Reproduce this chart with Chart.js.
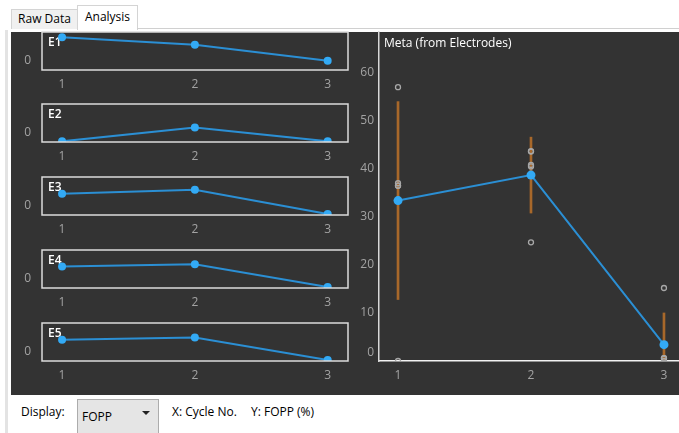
<!DOCTYPE html>
<html>
<head>
<meta charset="utf-8">
<script src="https://cdn.jsdelivr.net/npm/chart.js@4.4.1/dist/chart.umd.min.js"></script>
<style>
  body { margin: 0; width: 679px; height: 433px; overflow: hidden; background: #fff;
         font-family: "Open Sans", "Noto Sans", sans-serif; font-size: 12px; position: relative; }
  .abs { position: absolute; }
  .tab { position: absolute; box-sizing: border-box; border: 1px solid #d4d4d4; border-bottom: none;
         text-align: center; color: #000; }
  .raw { background: #f0f0f0; line-height: 18px; }
  .active { background: #fff; line-height: 22px; }
  canvas { position: absolute; }
  .combo { position: absolute; box-sizing: border-box; background: #e5e5e5; border: 1px solid #acacac; }
  .arrow { position: absolute; width: 0; height: 0; border-left: 4px solid transparent;
           border-right: 4px solid transparent; border-top: 4px solid #222; }
</style>
</head>
<body>
<div class="abs" style="left:5px;top:30px;width:3px;height:403px;background:#e3e3e3"></div>
<div class="tab raw" style="left:11px;top:9px;width:67px;height:20px;">Raw Data</div>
<div class="tab active" style="left:77px;top:5px;width:61px;height:25px;">Analysis</div>
<div class="abs" style="left:137px;top:28px;width:542px;height:1px;background:#d0d0d0"></div>
<div class="abs" style="left:11px;top:32px;width:668px;height:363px;background:#333333"></div>

<canvas id="e1" width="340" height="72" style="left:10px;top:31px"></canvas>
<canvas id="e2" width="340" height="72" style="left:10px;top:103px"></canvas>
<canvas id="e3" width="340" height="72" style="left:10px;top:176px"></canvas>
<canvas id="e4" width="340" height="72" style="left:10px;top:249px"></canvas>
<canvas id="e5" width="340" height="72" style="left:10px;top:322px"></canvas>
<canvas id="meta" width="329" height="364" style="left:350px;top:31px"></canvas>

<div class="abs" style="left:21px;top:403px;">Display:</div>
<div class="combo" style="left:77px;top:399px;width:82px;height:36px;"></div>
<div class="abs" style="left:82px;top:408px;">FOPP</div>
<div class="arrow" style="left:142px;top:411px;"></div>
<div class="abs" style="left:172px;top:403px;">X: Cycle No.</div>
<div class="abs" style="left:251px;top:403px;">Y: FOPP (%)</div>

<script>
// cycles on the x axis
var cycles = [1, 2, 3];
var electrodeNames = ['E1', 'E2', 'E3', 'E4', 'E5'];

// FOPP (%) per electrode, one value per cycle
var e1Values = [57.0, 43.7, 15.2];
var e2Values = [0.0, 24.7, 0.0];
var e3Values = [36.5, 43.6, 0.5];
var e4Values = [37.0, 40.8, 0.6];
var e5Values = [36.5, 40.5, 0.6];

// meta (from electrodes): mean and std dev per cycle
var metaMean = [33.4, 38.7, 3.4];
var metaSd = [20.6, 7.9, 6.6];

var metaYTicks = [0, 10, 20, 30, 40, 50, 60];

var lineBlue = '#2b8fd4';
var pointBlue = '#33aaf5';
var tickGray = '#a3a3a3';
var barOrange = '#a8682a';

Chart.defaults.font.family = '"Open Sans", "Noto Sans", sans-serif';
Chart.defaults.font.size = 12;

var framePlugin = {
    id: 'frame',
    afterDatasetsDraw: function (chart, args, opts) {
        if (!opts.show) return;
        var a = chart.chartArea, ctx = chart.ctx;
        ctx.save();
        ctx.strokeStyle = '#dcdcdc';
        ctx.lineWidth = 1.5;
        ctx.strokeRect(a.left, a.top, a.right - a.left, a.bottom - a.top);
        ctx.restore();
    }
};

var cornerLabel = {
    id: 'cornerLabel',
    beforeDatasetsDraw: function (chart, args, opts) {
        if (!opts.text) return;
        var a = chart.chartArea, ctx = chart.ctx;
        ctx.save();
        ctx.fillStyle = '#ffffff';
        ctx.font = (opts.weight || 'normal') + ' 12px "Open Sans", "Noto Sans", sans-serif';
        ctx.textBaseline = 'middle';
        ctx.fillText(opts.text, a.left + opts.dx, a.top + opts.dy);
        ctx.restore();
    }
};

function zeroLabel(v) {
    // the bottom "0" sits a half line above its tick, as in the original plot
    return v === 0 ? ['0', ''] : String(v);
}

// fixed axis sizes, and no extra room asked for the end labels
function fixSize(w, h) {
    return function (s) {
        if (w) s.width = w;
        if (h) s.height = h;
        s.paddingTop = 0; s.paddingBottom = 0;
        s.paddingLeft = 0; s.paddingRight = 0;
    };
}

function smallChart(id, name, values) {
    var ctx = document.getElementById(id).getContext('2d');
    new Chart(ctx, {
        type: 'line',
        data: {
            datasets: [{
                data: cycles.map(function (c, i) { return { x: c, y: values[i] }; }),
                borderColor: lineBlue,
                borderWidth: 2,
                pointRadius: 4,
                pointBackgroundColor: pointBlue,
                pointBorderWidth: 0
            }]
        },
        options: {
            responsive: false,
            animation: false,
            layout: { autoPadding: false, padding: { top: 1, right: 2, left: 0, bottom: 0 } },
            plugins: {
                legend: { display: false },
                tooltip: { enabled: false },
                frame: { show: true },
                cornerLabel: { text: name, dx: 6, dy: 11, weight: '600' }
            },
            scales: {
                x: {
                    type: 'linear', min: 0.849, max: 3.153,
                    grid: { display: false, drawTicks: false },
                    border: { display: false },
                    afterBuildTicks: function (s) { s.ticks = cycles.map(function (v) { return { value: v }; }); },
                    afterFit: fixSize(0, 33),
                    ticks: { color: tickGray, padding: 7, maxRotation: 0 }
                },
                y: {
                    min: -1.2, max: 66.3,
                    grid: { display: false, drawTicks: false },
                    border: { display: false },
                    afterBuildTicks: function (s) { s.ticks = [{ value: 0 }]; },
                    afterFit: fixSize(32, 0),
                    ticks: { color: tickGray, padding: 11, callback: zeroLabel, font: { lineHeight: 1.4 } }
                }
            }
        },
        plugins: [framePlugin, cornerLabel]
    });
}

var allValues = [e1Values, e2Values, e3Values, e4Values, e5Values];
smallChart('e1', electrodeNames[0], e1Values);
smallChart('e2', electrodeNames[1], e2Values);
smallChart('e3', electrodeNames[2], e3Values);
smallChart('e4', electrodeNames[3], e4Values);
smallChart('e5', electrodeNames[4], e5Values);

var scatterPoints = [];
allValues.forEach(function (vals) {
    cycles.forEach(function (c, i) { scatterPoints.push({ x: c, y: vals[i] }); });
});

var metaCtx = document.getElementById('meta').getContext('2d');
new Chart(metaCtx, {
    type: 'line',
    data: {
        datasets: [{
            type: 'line',
            data: cycles.map(function (c, i) { return { x: c, y: metaMean[i] }; }),
            borderColor: lineBlue,
            borderWidth: 2,
            pointRadius: 4.5,
            pointBackgroundColor: pointBlue,
            pointBorderWidth: 0,
            order: 0
        }, {
            type: 'scatter',
            data: scatterPoints,
            pointRadius: 2.5,
            borderColor: '#a8a8a8',
            backgroundColor: 'rgba(0,0,0,0)',
            pointBorderWidth: 1.3,
            order: 1
        }, {
            type: 'bar',
            data: cycles.map(function (c, i) { return { x: c, y: [metaMean[i] - metaSd[i], metaMean[i] + metaSd[i]] }; }),
            backgroundColor: barOrange,
            barThickness: 2,
            grouped: false,
            order: 2
        }]
    },
    options: {
        responsive: false,
        animation: false,
        layout: { autoPadding: false, padding: 0 },
        plugins: {
            legend: { display: false },
            tooltip: { enabled: false },
            frame: { show: false },
            cornerLabel: { text: 'Meta (from Electrodes)', dx: 5, dy: 13 }
        },
        scales: {
            x: {
                type: 'linear', min: 0.857, max: 3.113, offset: false,
                grid: { display: false, drawTicks: false },
                border: { display: true, color: '#f2f2f2', width: 1.5 },
                afterBuildTicks: function (s) { s.ticks = cycles.map(function (v) { return { value: v }; }); },
                afterFit: fixSize(0, 34),
                ticks: { color: tickGray, padding: 7, maxRotation: 0 }
            },
            y: {
                min: 0, max: 68.7,
                grid: { display: false, drawTicks: false },
                border: { display: true, color: '#d8d8d8', width: 1.5 },
                afterBuildTicks: function (s) { s.ticks = metaYTicks.map(function (v) { return { value: v }; }); },
                afterFit: fixSize(29, 0),
                ticks: { color: tickGray, padding: 5, callback: zeroLabel, font: { lineHeight: 1.4 } }
            }
        }
    },
    plugins: [cornerLabel]
});
</script>
</body>
</html>
